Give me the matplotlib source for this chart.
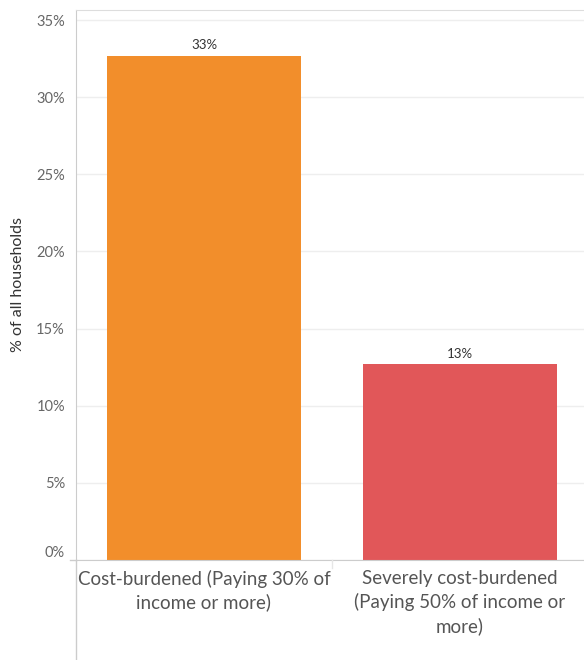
"""
Share of households that are cost-burdened vs severely cost-burdened.
"""

import matplotlib
matplotlib.use("Agg")
import matplotlib.pyplot as plt
from matplotlib.lines import Line2D

categories = [
    "Cost-burdened (Paying 30% of\nincome or more)",
    "Severely cost-burdened\n(Paying 50% of income or\nmore)",
]
values = [32.7, 12.7]
labels = ["33%", "13%"]
colors = ["#F28E2B", "#E15759"]
yticks = [0, 5, 10, 15, 20, 25, 30, 35]

plt.rcParams["font.family"] = ["Lato", "DejaVu Sans"]

fig = plt.figure(figsize=(5.84, 6.6), dpi=100)
ax = fig.add_axes([76 / 584, 100 / 660, 512 / 584, 550 / 660])

x = list(range(len(categories)))
ax.bar(x, values, width=0.754, color=colors, zorder=2)

for xi, v, lab in zip(x, values, labels):
    ax.annotate(lab, (xi, v), xytext=(0, 3), textcoords="offset points",
                ha="center", va="bottom", fontsize=9.5, color="#333333")

ax.set_xlim(-0.5, 1.5)
ax.set_ylim(0, 35.65)
ax.set_yticks(yticks)
ax.set_yticklabels([f"{t}%" for t in yticks], fontsize=10.5, color="#666666")
# the bottom label sits just above the baseline
ax.get_yticklabels()[0].set_verticalalignment("bottom")
ax.set_xticks(x)
ax.set_xticklabels(categories, fontsize=13.5, color="#555555", linespacing=1.4)
ax.tick_params(axis="both", length=0, pad=8)
ax.tick_params(axis="x", pad=7)
ax.set_ylabel("% of all households", fontsize=11.5, color="#333333", labelpad=8)

ax.grid(axis="y", color="#eeeeee", linewidth=1, zorder=0)
ax.spines["right"].set_visible(False)
ax.spines["top"].set_color("#dddddd")
ax.spines["bottom"].set_color("#cccccc")
ax.spines["left"].set_color("#cccccc")

# left rule continues down through the header area, small separator between categories
fig.add_artist(Line2D([76 / 584, 76 / 584], [0, 100 / 660], color="#cccccc", lw=1))
fig.add_artist(Line2D([70 / 584, 76 / 584], [100 / 660, 100 / 660], color="#cccccc", lw=1))
fig.add_artist(Line2D([332 / 584, 332 / 584], [92 / 660, 100 / 660], color="#e6e6e6", lw=1))

fig.savefig("out.png", dpi=100)
print("Saved out.png")
